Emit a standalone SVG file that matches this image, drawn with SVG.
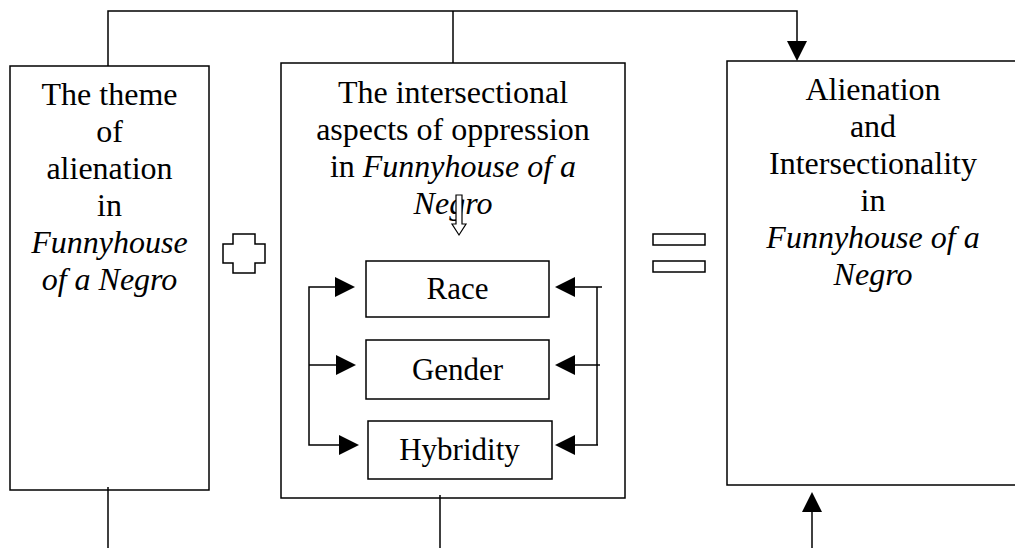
<svg xmlns="http://www.w3.org/2000/svg" width="1015" height="548" viewBox="0 0 1015 548">
<style>
.box{fill:none;stroke:#000;stroke-width:1.5}
.ln{fill:none;stroke:#000;stroke-width:1.5}
.ah{fill:#000;stroke:none}
.t{font-family:"Liberation Serif","Times New Roman",serif;font-size:32px;fill:#000;text-anchor:middle}
.s{font-family:"Liberation Serif","Times New Roman",serif;font-size:31px;fill:#000;text-anchor:middle}
.i{font-style:italic}
</style>
<rect width="1015" height="548" fill="#fff"/>
<g id="connectors">
<polyline class="ln" points="108,66 108,11 797,11 797,42"/>
<line class="ln" x1="453" y1="11" x2="453" y2="63"/>
<polygon class="ah" points="787,41 807,41 797,61"/>
<line class="ln" x1="108" y1="487" x2="108" y2="548"/>
<line class="ln" x1="440" y1="495" x2="440" y2="548"/>
<line class="ln" x1="812" y1="510" x2="812" y2="548"/>
<polygon class="ah" points="802,512 822,512 812,492"/>
<polyline class="ln" points="337,287 309,287 309,445 340,445"/>
<line class="ln" x1="309" y1="365" x2="337" y2="365"/>
<polygon class="ah" points="335,277 335,297 355,287"/>
<polygon class="ah" points="336,355 336,375 356,365"/>
<polygon class="ah" points="339,435 339,455 359,445"/>
<polyline class="ln" points="574,287 602,287"/>
<line class="ln" x1="597" y1="287" x2="597" y2="445"/>
<line class="ln" x1="574" y1="365" x2="600" y2="365"/>
<line class="ln" x1="574" y1="445" x2="598" y2="445"/>
<polygon class="ah" points="575,277 575,297 555,287"/>
<polygon class="ah" points="575,355 575,375 555,365"/>
<polygon class="ah" points="575,435 575,455 555,445"/>
</g>
<g id="theme">
<rect class="box" x="10" y="66" width="199" height="424"/>
<text class="t" x="109.5" y="105">The theme</text>
<text class="t" x="109.5" y="142">of</text>
<text class="t" x="109.5" y="179">alienation</text>
<text class="t" x="109.5" y="216">in</text>
<text class="t i" x="109.5" y="253">Funnyhouse</text>
<text class="t i" x="109.5" y="290">of a Negro</text>
</g>
<g id="plus">
<polygon class="box" points="233,234 255,234 255,244 265,244 265,263 255,263 255,273 233,273 233,263 223,263 223,244 233,244"/>
</g>
<g id="aspects">
<rect class="box" x="281" y="63" width="344" height="435"/>
<text class="t" x="453" y="103">The intersectional</text>
<text class="t" x="453" y="140">aspects of oppression</text>
<text class="t" x="453" y="177">in <tspan class="i">Funnyhouse of a</tspan></text>
<text class="t i" x="453" y="214">Negro</text>
<polygon fill="#fff" stroke="#000" stroke-width="1.2" points="456,195 462,195 462,224 466,224 459,235 452,224 456,224"/>
</g>
<g id="race">
<rect class="box" x="366" y="261" width="183" height="56"/>
<text class="s" x="457.5" y="299">Race</text>
</g>
<g id="gender">
<rect class="box" x="366" y="340" width="183" height="59"/>
<text class="s" x="457.5" y="380">Gender</text>
</g>
<g id="hybridity">
<rect class="box" x="368" y="421" width="184" height="58"/>
<text class="s" x="459.5" y="460">Hybridity</text>
</g>
<g id="equals">
<rect class="box" x="653" y="234" width="52" height="11"/>
<rect class="box" x="653" y="261" width="52" height="11"/>
</g>
<g id="result">
<rect class="box" x="727" y="61" width="300" height="424"/>
<text class="t" x="873" y="100">Alienation</text>
<text class="t" x="873" y="137">and</text>
<text class="t" x="873" y="174">Intersectionality</text>
<text class="t" x="873" y="211">in</text>
<text class="t i" x="873" y="248">Funnyhouse of a</text>
<text class="t i" x="873" y="285">Negro</text>
</g>
</svg>
